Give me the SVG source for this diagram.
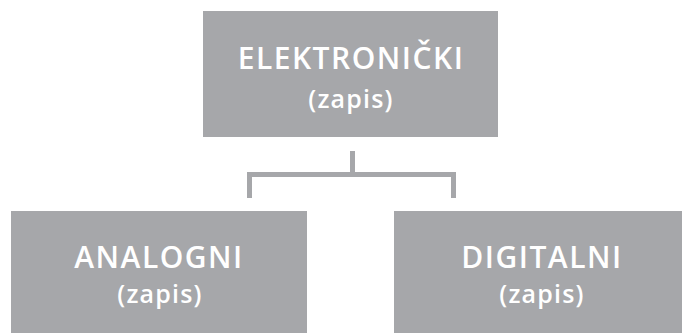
<svg xmlns="http://www.w3.org/2000/svg" width="682" height="333" viewBox="0 0 682 333">
<style>
.box{fill:#a6a7aa}
.t{font-family:"Open Sans","Liberation Sans",sans-serif;font-weight:600;fill:#ffffff;text-anchor:middle}
.h{font-size:30px;letter-spacing:1.5px}
.s{font-size:25px;letter-spacing:1.2px}
.c{stroke:#a6a7aa;stroke-width:5;fill:none}
</style>
<rect width="682" height="333" fill="#ffffff"/>
<g id="connectors">
<path class="c" d="M352.5 151V174.5M249.5 198V174.5H453.5V198"/>
</g>
<g id="elektronicki">
<rect class="box" x="203" y="11" width="295" height="126"/>
<text class="t h" x="351" y="69">ELEKTRONIČKI</text>
<text class="t s" x="351" y="108">(zapis)</text>
</g>
<g id="analogni">
<rect class="box" x="11" y="211" width="296" height="122"/>
<text class="t h" x="159" y="268">ANALOGNI</text>
<text class="t s" x="160" y="303">(zapis)</text>
</g>
<g id="digitalni">
<rect class="box" x="394" y="211" width="295" height="122"/>
<text class="t h" x="542" y="268">DIGITALNI</text>
<text class="t s" x="542" y="303">(zapis)</text>
</g>
</svg>
